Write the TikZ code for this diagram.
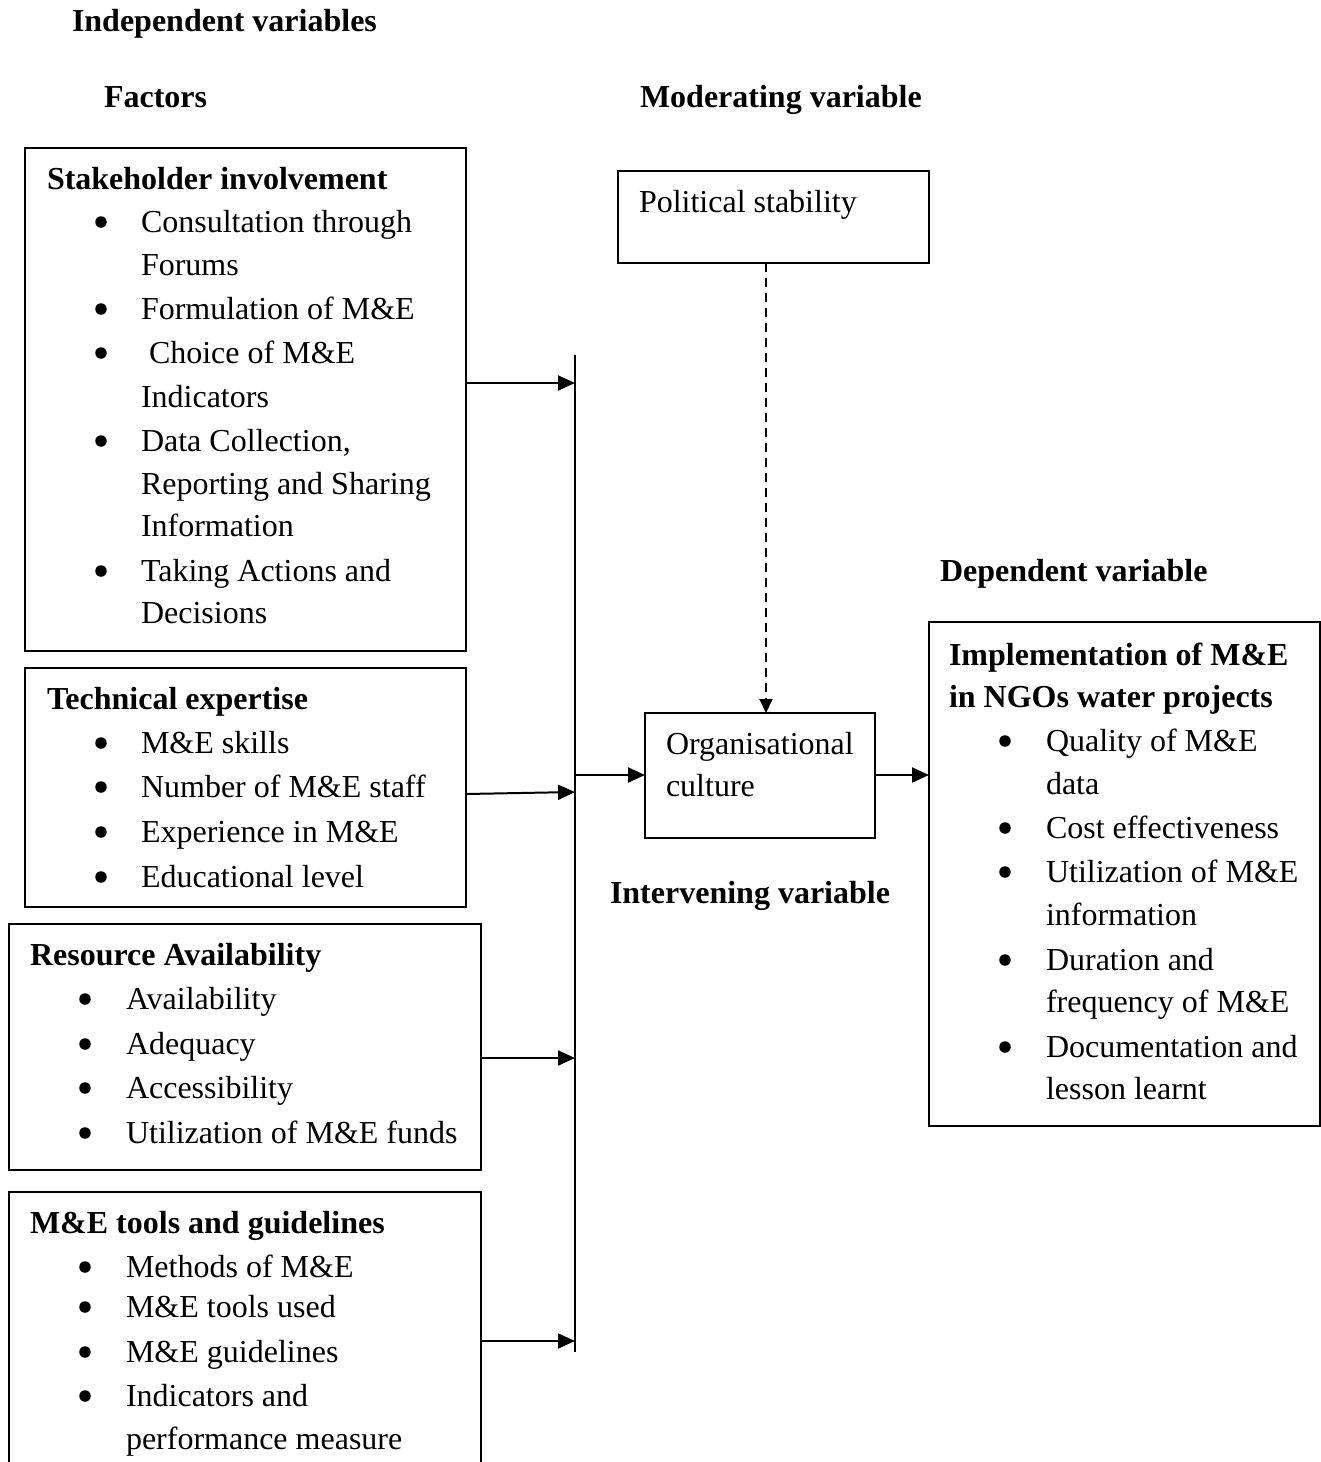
\documentclass[tikz,border=0pt]{standalone}
\usepackage{fontspec}
\setmainfont{Liberation Serif}
\usetikzlibrary{arrows.meta}
\begin{document}
\begin{tikzpicture}[x=1pt,y=-1pt,
  every node/.style={inner sep=0pt, outer sep=0pt},
  box/.style={draw, line width=2pt, anchor=north west, minimum width=#1},
  txt/.style={anchor=base west, font=\fontsize{32}{38}\selectfont},
  hd/.style={anchor=base west, font=\fontsize{32}{38}\selectfont\bfseries},
  bul/.style={circle, fill, minimum size=11.5pt},
  arr/.style={line width=2pt, -{Triangle[length=17pt,width=15pt]}},
  darr/.style={line width=2pt, dash pattern=on 9pt off 6pt, -{Triangle[length=14pt,width=13pt]}}
]
\useasboundingbox (0,0) rectangle (1321,1462);
% titles
\node[hd] (tIndep) at (72,31) {Independent variables};
\node[hd] (tFact) at (104,107) {Factors};
\node[hd] (tMod) at (640,107) {Moderating variable};
\node[hd] (tDep) at (940,581) {Dependent variable};
\node[hd] (tInt) at (610,903) {Intervening variable};
% boxes
\node[box=441pt, minimum height=503pt] (sh) at (25,148) {};
\node[box=441pt, minimum height=239pt] (te) at (25,668) {};
\node[box=472pt, minimum height=246pt] (ra) at (9,924) {};
\node[box=472pt, minimum height=290pt] (mt) at (9,1192) {};
\node[box=311pt, minimum height=92pt] (ps) at (618,171) {};
\node[box=230pt, minimum height=125pt] (oc) at (645,713) {};
\node[box=391pt, minimum height=504pt] (im) at (929,622) {};
% box 1 text
\node[hd] (sh0) at (47,189) {Stakeholder involvement};
\foreach \y/\t [count=\i] in {232/Consultation through, 275/Forums, 319/Formulation of M\&E, 363/{\ Choice of M\&E}, 407/Indicators, 451/{Data Collection,}, 494/Reporting and Sharing, 536/Information, 581/Taking Actions and, 623/Decisions}
  \node[txt] (sh\i) at (141,\y) {\t};
\foreach \y [count=\i] in {232,319,363,451,581}
  \node[bul] (shb\i) at (101,\y-10) {};
% box 2 text
\node[hd] (te0) at (47,709) {Technical expertise};
\foreach \y/\t [count=\i] in {753/M\&E skills, 797/Number of M\&E staff, 842/Experience in M\&E, 887/Educational level}
  {\node[txt] (te\i) at (141,\y) {\t};
   \node[bul] (teb\i) at (101,\y-10) {};}
% box 3 text
\node[hd] (ra0) at (30,965) {Resource Availability};
\foreach \y/\t [count=\i] in {1009/Availability, 1054/Adequacy, 1098/Accessibility, 1143/Utilization of M\&E funds}
  {\node[txt] (ra\i) at (126,\y) {\t};
   \node[bul] (rab\i) at (85,\y-10) {};}
% box 4 text
\node[hd] (mt0) at (30,1233) {M\&E tools and guidelines};
\foreach \y/\t [count=\i] in {1277/Methods of M\&E, 1317/M\&E tools used, 1362/M\&E guidelines, 1406/Indicators and, 1449/performance measure}
  \node[txt] (mt\i) at (126,\y) {\t};
\foreach \y [count=\i] in {1277,1317,1362,1406}
  \node[bul] (mtb\i) at (85,\y-10) {};
% political, organisational
\node[txt] (ps0) at (639,212) {Political stability};
\node[txt] (oc1) at (666,754) {Organisational};
\node[txt] (oc2) at (666,796) {culture};
% implementation box text
\node[hd] (im0) at (949,665) {Implementation of M\&E};
\node[hd] (im00) at (949,707) {in NGOs water projects};
\foreach \y/\t [count=\i] in {751/Quality of M\&E, 794/data, 838/Cost effectiveness, 882/Utilization of M\&E, 925/information, 970/Duration and, 1012/frequency of M\&E, 1057/Documentation and, 1099/lesson learnt}
  \node[txt] (im\i) at (1046,\y) {\t};
\foreach \y [count=\i] in {751,838,882,970,1057}
  \node[bul] (imb\i) at (1005,\y-10) {};
% bus
\coordinate (busT) at (575,355);
\coordinate (busB) at (575,1352);
\coordinate (j1) at (575,383);
\coordinate (j2) at (575,792);
\coordinate (j3) at (575,1058);
\coordinate (j4) at (575,1341);
\coordinate (jm) at (575,775);
\draw[line width=2pt] (busT) -- (busB);
\draw[arr] (sh.east |- j1) -- (j1);
\draw[arr] ([yshift=-2pt]sh.east |- j2) -- (j2);
\draw[arr] (ra.east |- j3) -- (j3);
\draw[arr] (mt.east |- j4) -- (j4);
\draw[arr] (jm) -- (oc.west |- jm);
\draw[arr] (oc.east |- jm) -- (im.west |- jm);
\draw[darr] (ps.south -| 766,0) -- (oc.north -| 766,0);
\end{tikzpicture}
\end{document}
